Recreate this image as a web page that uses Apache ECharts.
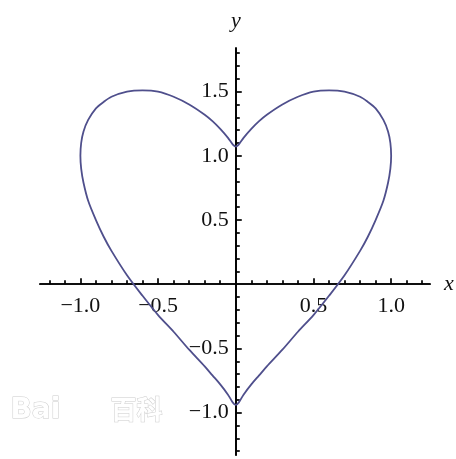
<!DOCTYPE html>
<html lang="en">
<head>
    <meta charset="UTF-8">
    <title>Heart curve</title>
    <script src="https://cdn.jsdelivr.net/npm/echarts@6/dist/echarts.min.js"></script>
    <style>
        html, body { margin: 0; padding: 0; background: #fff; }
    </style>
</head>
<body>
    <div id="main" style="width: 456px;height:459px;"></div>
    <script type="text/javascript">
        // points, going round the heart from the top cusp clockwise
        var heartX = [0, 0.02, 0.05, 0.1, 0.15, 0.2, 0.3, 0.4, 0.5, 0.6, 0.7, 0.8, 0.85, 0.9, 0.95, 0.98, 0.995, 1.0,
            0.995, 0.98, 0.95, 0.9, 0.85, 0.8, 0.7, 0.6, 0.5, 0.4, 0.3, 0.2, 0.15, 0.1, 0.05, 0.02, 0,
            -0.02, -0.05, -0.1, -0.15, -0.2, -0.3, -0.4, -0.5, -0.6, -0.7, -0.8, -0.85, -0.9, -0.95, -0.98, -0.995, -1.0,
            -0.995, -0.98, -0.95, -0.9, -0.85, -0.8, -0.7, -0.6, -0.5, -0.4, -0.3, -0.2, -0.15, -0.1, -0.05, -0.02, 0];
        var heartY = [1.07, 1.09, 1.14, 1.21, 1.27, 1.32, 1.40, 1.46, 1.50, 1.51, 1.50, 1.46, 1.42, 1.37, 1.28, 1.19, 1.10, 1.0,
            0.90, 0.79, 0.65, 0.50, 0.37, 0.26, 0.07, -0.09, -0.24, -0.37, -0.51, -0.64, -0.71, -0.78, -0.86, -0.92, -0.94,
            -0.92, -0.86, -0.78, -0.71, -0.64, -0.51, -0.37, -0.24, -0.09, 0.07, 0.26, 0.37, 0.50, 0.65, 0.79, 0.90, 1.0,
            1.10, 1.19, 1.28, 1.37, 1.42, 1.46, 1.50, 1.51, 1.50, 1.46, 1.40, 1.32, 1.27, 1.21, 1.14, 1.09, 1.07];

        // axis ranges and tick values
        var xRange = [-1.26, 1.25];
        var yRange = [-1.33, 1.84];
        var xMajor = [-1.0, -0.5, 0.5, 1.0];
        var xMinor = [-1.2, -1.1, -0.9, -0.8, -0.7, -0.6, -0.4, -0.3, -0.2, -0.1,
            0.1, 0.2, 0.3, 0.4, 0.6, 0.7, 0.8, 0.9, 1.1, 1.2];
        var yMajor = [-1.0, -0.5, 0.5, 1.0, 1.5];
        var yMinor = [-1.3, -1.2, -1.1, -0.9, -0.8, -0.7, -0.6, -0.4, -0.3, -0.2, -0.1,
            0.1, 0.2, 0.3, 0.4, 0.6, 0.7, 0.8, 0.9, 1.1, 1.2, 1.3, 1.4, 1.6, 1.7, 1.8];

        var points = [];
        for (var i = 0; i < heartX.length; i++) {
            points.push([heartX[i], heartY[i]]);
        }

        var W = 456, H = 459;
        var grid = { left: 40, right: 26, top: 48, bottom: 4 };
        var gw = W - grid.left - grid.right;
        var gh = H - grid.top - grid.bottom;
        // move the axes from the grid edges onto the origin
        var xOffset = -gh * (0 - yRange[0]) / (yRange[1] - yRange[0]);
        var yOffset = -gw * (0 - xRange[0]) / (xRange[1] - xRange[0]);

        var serif = 'Liberation Serif';
        function fmt(v) {
            return v.toFixed(1).replace('-', '\u2212');
        }
        var lineStyle = { color: '#000', width: 1.7 };

        function xAxis(major) {
            return {
                type: 'value', min: xRange[0], max: xRange[1], position: 'bottom', offset: xOffset,
                axisLine: { onZero: false, lineStyle: lineStyle },
                axisTick: { inside: true, length: major ? 6 : 4, customValues: major ? xMajor : xMinor, lineStyle: lineStyle },
                axisLabel: major ? { customValues: xMajor, formatter: fmt, margin: 11, color: '#111', fontFamily: serif, fontSize: 22 } : { show: false },
                splitLine: { show: false },
                name: major ? 'x' : '', nameLocation: 'end', nameGap: 14,
                nameTextStyle: { fontFamily: serif, fontStyle: 'italic', fontSize: 22, color: '#111', padding: [8, 0, 0, 0] }
            };
        }
        function yAxis(major) {
            return {
                type: 'value', min: yRange[0], max: yRange[1], position: 'left', offset: yOffset,
                axisLine: { onZero: false, lineStyle: lineStyle },
                axisTick: { inside: true, length: major ? 6 : 4, customValues: major ? yMajor : yMinor, lineStyle: lineStyle },
                axisLabel: major ? { customValues: yMajor, formatter: fmt, margin: 7, color: '#111', fontFamily: serif, fontSize: 22 } : { show: false },
                splitLine: { show: false },
                name: major ? 'y' : '', nameLocation: 'end', nameGap: 16,
                nameTextStyle: { fontFamily: serif, fontStyle: 'italic', fontSize: 22, color: '#111' }
            };
        }

        var myChart = echarts.init(document.getElementById('main'));

        var option = {
            animation: false,
            grid: { left: grid.left, right: grid.right, top: grid.top, bottom: grid.bottom, containLabel: false, outerBoundsMode: 'none' },
            xAxis: [xAxis(true), xAxis(false)],
            yAxis: [yAxis(true), yAxis(false)],
            graphic: [
                { type: 'text', left: 10, top: 396, style: { text: 'Bai', font: 'bold 28px "DejaVu Sans"', fill: '#fff', stroke: '#cccccc', lineWidth: 1 } },
                { type: 'text', left: 110, top: 396, style: { text: '百科', font: 'bold 26px "Noto Sans CJK SC"', fill: '#fff', stroke: '#cccccc', lineWidth: 1 } }
            ],
            series: [
                {
                    type: 'line',
                    xAxisIndex: 0,
                    yAxisIndex: 0,
                    data: points,
                    showSymbol: false,
                    smooth: 0.3,
                    clip: false,
                    lineStyle: { color: '#4f4f8c', width: 1.8 }
                }
            ]
        };

        myChart.setOption(option);
    </script>
</body>
</html>
